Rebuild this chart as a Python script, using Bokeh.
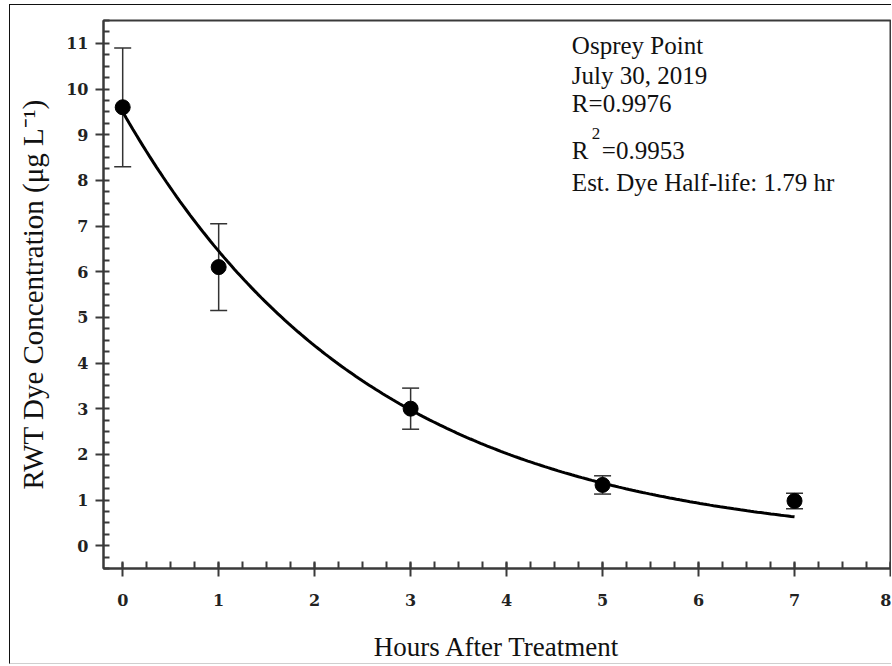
import numpy as np
from bokeh.plotting import figure
from bokeh.models import (ColumnDataSource, Whisker, TeeHead, SingleIntervalTicker,
                          Range1d, Label)
from bokeh.embed import file_html
from bokeh.resources import INLINE

# Measured RWT dye concentrations (mean and error half-width)
hours = [0, 1, 3, 5, 7]
conc = [9.6, 6.1, 3.0, 1.33, 0.98]
err = [1.3, 0.95, 0.45, 0.2, 0.17]

# Exponential decay fit
fit_c0 = 9.5
half_life = 1.79
fit_r = "0.9976"
fit_r2 = "0.9953"

site = "Osprey Point"
date = "July 30, 2019"

TICK_FONT = "DejaVu Serif"
LABEL_FONT = "Liberation Serif"
INK = "#222222"
AXIS = "#3a3a3a"

p = figure(width=882, height=660, output_backend="svg", toolbar_location=None,
           x_range=Range1d(-0.2, 8.0), y_range=Range1d(-0.5, 11.5),
           min_border_left=93, min_border_right=2, min_border_top=15,
           min_border_bottom=97)
p.styles = {"margin-left": "9px", "margin-top": "4px",
            "border-left": "1px solid #111", "border-top": "1px solid #111",
            "border-bottom": "1px solid #cfcfcf"}

p.grid.visible = False
p.background_fill_color = "white"
p.border_fill_color = "white"
p.outline_line_color = AXIS
p.outline_line_width = 2

for ax in (p.xaxis[0], p.yaxis[0]):
    ax.ticker = SingleIntervalTicker(interval=1, num_minor_ticks=4)
    ax.axis_line_color = AXIS
    ax.axis_line_width = 2
    ax.major_tick_line_color = AXIS
    ax.major_tick_line_width = 2
    ax.minor_tick_line_color = AXIS
    ax.minor_tick_line_width = 2
    ax.major_label_text_font = TICK_FONT
    ax.major_label_text_font_style = "bold"
    ax.major_label_text_font_size = "16px"
    ax.major_label_text_color = INK
    ax.axis_label_text_font = LABEL_FONT
    ax.axis_label_text_font_style = "normal"
    ax.axis_label_text_color = "#111111"

p.xaxis.major_tick_in = 6
p.xaxis.major_tick_out = 8
p.xaxis.minor_tick_in = 7
p.xaxis.minor_tick_out = 0
p.xaxis.major_label_standoff = 17
p.xaxis.axis_label = "Hours After Treatment"
p.xaxis.axis_label_text_font_size = "27px"
p.xaxis.axis_label_standoff = 23

p.yaxis.major_tick_in = 0
p.yaxis.major_tick_out = 8
p.yaxis.minor_tick_in = 6
p.yaxis.minor_tick_out = 0
p.yaxis.major_label_standoff = 7
p.yaxis.axis_label = "RWT Dye Concentration (\u03bcg L\u207b\u00b9)"
p.yaxis.axis_label_text_font_size = "29px"
p.yaxis.axis_label_standoff = 14

# fitted decay curve
t = np.linspace(hours[0], hours[-1], 200)
k = np.log(2) / half_life
p.line(t, fit_c0 * np.exp(-k * t), line_color="black", line_width=3)

# observations with error bars
src = ColumnDataSource(dict(
    x=hours, y=conc,
    lo=[c - e for c, e in zip(conc, err)],
    hi=[c + e for c, e in zip(conc, err)],
))
whisk = Whisker(source=src, base="x", lower="lo", upper="hi",
                line_color="#333333", line_width=1.5,
                lower_head=TeeHead(size=17, line_color="#333333", line_width=1.5),
                upper_head=TeeHead(size=17, line_color="#333333", line_width=1.5))
p.add_layout(whisk)
p.scatter("x", "y", source=src, size=15, color="black")

# annotation block in the upper right of the frame
note_x = 4.68


def note(text, y, size="25px", dx=0):
    p.add_layout(Label(x=note_x, y=y, text=text, x_offset=dx,
                       text_font="Liberation Serif", text_font_size=size,
                       text_baseline="alphabetic", text_color="#111111"))


note(site, 10.96)
note(date, 10.30)
note("R=" + fit_r, 9.68)
note("R", 8.65)
note("2", 9.03, size="17px", dx=20)
note("=" + fit_r2, 8.65, dx=30)
note("Est. Dye Half-life: %.2f hr" % half_life, 7.95)

open("out.html", "w").write(file_html(p, INLINE))
